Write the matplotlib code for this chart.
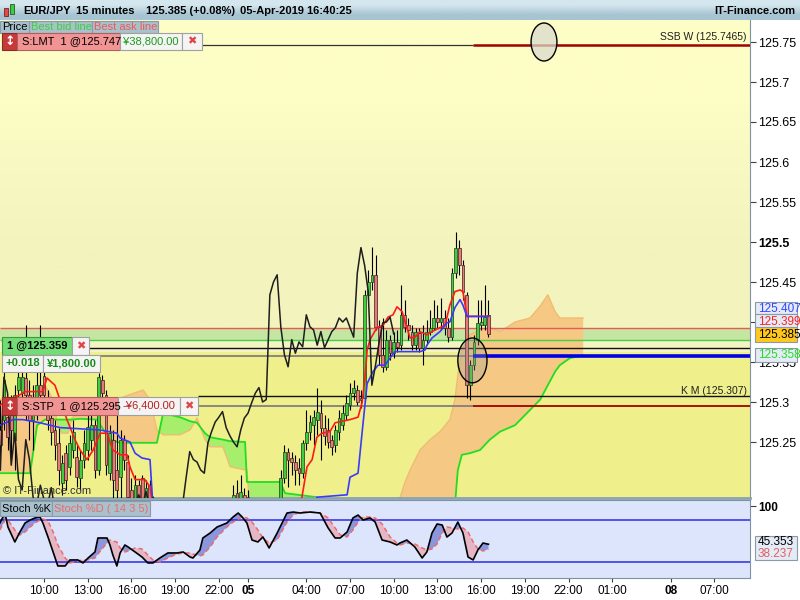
import numpy as np
import matplotlib
matplotlib.use("Agg")
import matplotlib.pyplot as plt
from matplotlib.patches import Rectangle, Ellipse

plt.rcParams['font.family'] = ['Liberation Sans', 'DejaVu Sans']

# ---------------- data (15-minute bars, bar 0 = 04-Apr 10:00) ----------------
first_bar = -12
opens = [
    125.265, 125.278, 125.281, 125.290, 125.253, 125.315, 125.311, 125.330, 125.309, 125.278,
    125.303, 125.321, 125.333, 125.303, 125.280, 125.265, 125.249, 125.199, 125.236, 125.219,
    125.240, 125.231, 125.205, 125.228, 125.240, 125.253, 125.271, 125.215, 125.328, 125.309,
    125.211, 125.253, 125.215, 125.206, 125.253, 125.225, 125.190, 125.178, 125.196, 125.205,
    125.171, 125.196, 125.165, 125.150, 125.140, 125.148, 125.136, 125.128, 125.135, 125.146,
    125.150, 125.138, 125.132, 125.142, 125.152, 125.144, 125.156, 125.160, 125.148, 125.146,
    125.156, 125.165, 125.158, 125.168, 125.171, 125.186, 125.171, 125.184, 125.171, 125.178,
    125.160, 125.152, 125.162, 125.165, 125.170, 125.166, 125.172, 125.178, 125.205, 125.238,
    125.230, 125.225, 125.218, 125.211, 125.249, 125.263, 125.271, 125.278, 125.286, 125.268,
    125.265, 125.253, 125.246, 125.263, 125.271, 125.284, 125.296, 125.311, 125.315, 125.305,
    125.305, 125.434, 125.450, 125.459, 125.394, 125.359, 125.344, 125.378, 125.361, 125.375,
    125.371, 125.409, 125.396, 125.388, 125.371, 125.386, 125.368, 125.378, 125.388, 125.393,
    125.405, 125.400, 125.405, 125.393, 125.381, 125.461, 125.493, 125.471, 125.434, 125.321,
    125.346, 125.378, 125.396, 125.396, 125.409]
highs = [
    125.303, 125.338, 125.296, 125.309, 125.321, 125.378, 125.353, 125.396, 125.328, 125.321,
    125.340, 125.396, 125.346, 125.315, 125.290, 125.278, 125.267, 125.234, 125.246, 125.259,
    125.278, 125.246, 125.240, 125.265, 125.284, 125.290, 125.278, 125.336, 125.334, 125.315,
    125.271, 125.265, 125.290, 125.265, 125.259, 125.234, 125.205, 125.209, 125.203, 125.209,
    125.203, 125.203, 125.178, 125.160, 125.155, 125.158, 125.145, 125.140, 125.150, 125.158,
    125.155, 125.146, 125.148, 125.158, 125.160, 125.162, 125.168, 125.165, 125.158, 125.162,
    125.170, 125.172, 125.172, 125.176, 125.196, 125.203, 125.209, 125.193, 125.190, 125.179,
    125.170, 125.165, 125.172, 125.175, 125.178, 125.176, 125.178, 125.215, 125.246, 125.243,
    125.238, 125.234, 125.230, 125.253, 125.290, 125.284, 125.290, 125.318, 125.303, 125.284,
    125.280, 125.259, 125.271, 125.290, 125.296, 125.309, 125.324, 125.328, 125.321, 125.315,
    125.440, 125.465, 125.494, 125.484, 125.403, 125.405, 125.390, 125.384, 125.388, 125.390,
    125.446, 125.428, 125.405, 125.396, 125.393, 125.393, 125.396, 125.403, 125.415, 125.428,
    125.421, 125.430, 125.415, 125.405, 125.468, 125.513, 125.503, 125.478, 125.438, 125.353,
    125.384, 125.428, 125.428, 125.446, 125.428]
lows = [
    125.215, 125.265, 125.240, 125.228, 125.215, 125.303, 125.290, 125.278, 125.253, 125.240,
    125.278, 125.290, 125.296, 125.265, 125.246, 125.228, 125.196, 125.184, 125.190, 125.209,
    125.230, 125.194, 125.190, 125.218, 125.228, 125.240, 125.205, 125.209, 125.303, 125.209,
    125.203, 125.180, 125.178, 125.180, 125.215, 125.165, 125.159, 125.165, 125.171, 125.153,
    125.159, 125.140, 125.145, 125.135, 125.130, 125.132, 125.120, 125.118, 125.128, 125.138,
    125.130, 125.125, 125.128, 125.136, 125.138, 125.140, 125.148, 125.142, 125.140, 125.142,
    125.150, 125.152, 125.150, 125.158, 125.165, 125.163, 125.165, 125.159, 125.163, 125.155,
    125.148, 125.145, 125.155, 125.158, 125.160, 125.158, 125.162, 125.171, 125.199, 125.194,
    125.209, 125.196, 125.196, 125.205, 125.240, 125.253, 125.246, 125.259, 125.228, 125.246,
    125.243, 125.234, 125.238, 125.253, 125.265, 125.278, 125.290, 125.303, 125.296, 125.293,
    125.300, 125.430, 125.440, 125.390, 125.346, 125.338, 125.340, 125.353, 125.355, 125.363,
    125.365, 125.388, 125.378, 125.365, 125.365, 125.363, 125.346, 125.371, 125.384, 125.390,
    125.393, 125.390, 125.384, 125.375, 125.378, 125.455, 125.459, 125.428, 125.305, 125.303,
    125.340, 125.371, 125.390, 125.390, 125.381]
closes = [
    125.246, 125.328, 125.256, 125.265, 125.309, 125.331, 125.331, 125.309, 125.278, 125.303,
    125.321, 125.309, 125.309, 125.278, 125.263, 125.246, 125.215, 125.224, 125.203, 125.249,
    125.263, 125.206, 125.228, 125.249, 125.269, 125.271, 125.215, 125.331, 125.311, 125.221,
    125.261, 125.203, 125.190, 125.253, 125.228, 125.181, 125.171, 125.196, 125.178, 125.171,
    125.193, 125.165, 125.150, 125.140, 125.148, 125.136, 125.128, 125.135, 125.146, 125.150,
    125.138, 125.132, 125.142, 125.152, 125.144, 125.156, 125.160, 125.148, 125.146, 125.156,
    125.165, 125.158, 125.168, 125.170, 125.184, 125.171, 125.188, 125.168, 125.181, 125.160,
    125.152, 125.162, 125.165, 125.170, 125.166, 125.172, 125.170, 125.205, 125.238, 125.228,
    125.225, 125.215, 125.211, 125.249, 125.263, 125.275, 125.281, 125.288, 125.268, 125.258,
    125.250, 125.244, 125.265, 125.280, 125.286, 125.299, 125.311, 125.318, 125.300, 125.303,
    125.434, 125.450, 125.459, 125.394, 125.359, 125.344, 125.378, 125.361, 125.375, 125.369,
    125.409, 125.394, 125.390, 125.371, 125.388, 125.368, 125.378, 125.388, 125.393, 125.405,
    125.400, 125.405, 125.393, 125.381, 125.461, 125.493, 125.471, 125.438, 125.321, 125.346,
    125.375, 125.399, 125.400, 125.406, 125.385]

# Ichimoku lines (bar position, price)
tenkan_x = [-12.1, -9.3, -6.6, -5.2, -0.3, 0.8, 3.0, 4.9, 6.3, 8.5, 9.9, 11.8, 13.5, 15.4, 17.3,
            18.9, 20.9, 22.8, 23.6, 25.0, 27.7, 29.1, 29.9, 35, 50, 65, 70.5, 70.8, 72.2, 73.6,
            74.9, 76.3, 78.5, 79.9, 84.0, 86.2, 87.3, 88.1, 88.7, 89.5, 91.4, 93.1, 94.4, 95.8, 96.9,
            98.3, 99.6, 100.5, 101.8, 103.2, 105.1, 106.5, 108.7, 110.1, 111.4, 112.8, 114.2, 115.0,
            116.1, 122.0]
tenkan_y = [125.296, 125.303, 125.309, 125.313, 125.313, 125.330, 125.321, 125.296, 125.278, 125.253,
            125.240, 125.228, 125.240, 125.261, 125.261, 125.240, 125.234, 125.234, 125.219, 125.203,
            125.203, 125.194, 125.170, 125.150, 125.140, 125.155, 125.178, 125.181, 125.219, 125.228,
            125.256, 125.261, 125.263, 125.274, 125.278, 125.281, 125.299, 125.330, 125.365, 125.378,
            125.393, 125.396, 125.406, 125.409, 125.419, 125.413, 125.393, 125.380, 125.381, 125.388,
            125.384, 125.388, 125.393, 125.396, 125.421, 125.438, 125.440, 125.438, 125.407, 125.407]
kijun_x = [-12.1, -8.5, -5.8, -1.1, 4.4, 15.4, 20.0, 20.9, 23.6, 25.0, 26.9, 29.1, 29.9, 40, 60,
           74.7, 74.9, 83.2, 84.0, 86.2, 87.3, 88.7, 90.3, 91.7, 93.6, 95.0, 96.3, 103.2, 104.6,
           105.1, 106.5, 108.7, 110.6, 111.4, 112.8, 114.2, 115.0, 116.1, 122.0]
kijun_y = [125.271, 125.278, 125.278, 125.274, 125.268, 125.265, 125.261, 125.255, 125.250, 125.236,
           125.230, 125.228, 125.170, 125.150, 125.150, 125.170, 125.181, 125.184, 125.206, 125.211,
           125.261, 125.323, 125.338, 125.346, 125.346, 125.355, 125.363, 125.363, 125.365, 125.371,
           125.380, 125.388, 125.399, 125.400, 125.418, 125.428, 125.421, 125.407, 125.407]
span_x = [-12.1, -3.8, -1.9, 0.3, 2.5, 3.8, 4.9, 6.6, 7.7, 9.9, 14.5, 18.1, 20.9, 27.2, 29.1,
          31.0, 32.7, 37.3, 40.1, 42.0, 44.2, 45.6, 49.1, 51.1, 55.2, 55.7, 56.5, 64.8, 66.2, 74.9,
          78.5, 97.7, 99.1, 100.5, 103.2, 106.0, 108.7, 111.4, 112.8, 113.6, 114.7, 116.9, 119.7,
          122.4, 125.2, 129.3, 133.4, 136.2, 138.3, 140.3, 141.6, 144.4, 148.0]
span_a = [125.211, 125.211, 125.271, 125.278, 125.278, 125.278, 125.278, 125.278, 125.278, 125.279,
          125.278, 125.253, 125.249, 125.249, 125.249, 125.249, 125.286, 125.281, 125.276, 125.274,
          125.261, 125.256, 125.253, 125.251, 125.250, 125.200, 125.200, 125.200, 125.186, 125.181,
          125.171, 125.153, 125.153, 125.153, 125.153, 125.153, 125.153, 125.159, 125.171, 125.215,
          125.234, 125.236, 125.240, 125.253, 125.263, 125.271, 125.290, 125.303, 125.321, 125.338,
          125.346, 125.355, 125.358]
span_b = [125.303, 125.309, 125.309, 125.321, 125.303, 125.271, 125.261, 125.261, 125.280, 125.290,
          125.296, 125.303, 125.305, 125.315, 125.303, 125.265, 125.259, 125.259, 125.265, 125.280,
          125.253, 125.244, 125.244, 125.219, 125.215, 125.215, 125.165, 125.159, 125.159, 125.159,
          125.159, 125.180, 125.200, 125.215, 125.240, 125.253, 125.263, 125.278, 125.303, 125.334,
          125.365, 125.384, 125.390, 125.393, 125.388, 125.400, 125.405, 125.420, 125.434, 125.413,
          125.405, 125.405, 125.405]

# Stochastic (bar position, %K, %D)
stoch_x = [-12.1, -10.7, -9.9, -8.0, -6.6, -5.2, -3.8, -2.5, -1.1, -0.3, 1.1, 2.5, 3.8, 5.8, 7.1,
           9.3, 10.7, 12.1, 14.0, 14.8, 17.3, 18.1, 18.9, 20.0, 20.9, 22.2, 23.1, 25.0, 26.9, 28.5,
           29.9, 31.8, 34.0, 36.5, 38.2, 40.1, 40.9, 42.8, 43.6, 45.6, 47.5, 50.2, 51.9, 53.3, 54.4,
           55.7, 57.1, 58.7, 60.1, 61.8, 64.0, 66.7, 68.4, 70.3, 73.0, 75.8, 78.0, 79.9, 81.3, 83.2,
           84.8, 86.2, 87.6, 89.5, 90.9, 92.8, 95.0, 96.9, 97.7, 99.6, 101.8, 103.8, 105.1, 106.5,
           107.9, 109.3, 110.6, 112.0, 113.6, 115.0, 116.4, 117.8, 119.1, 120.5, 122.0]
stoch_k = [75.7, 90.0, 70.0, 48.6, 62.9, 75.7, 80.0, 82.9, 84.3, 75.7, 55.7, 34.3, 14.3, 14.3, 22.9,
           22.9, 18.6, 25.7, 34.3, 54.3, 54.3, 44.3, 30.0, 14.3, 32.9, 44.3, 41.4, 34.3, 27.1, 18.6,
           18.6, 25.7, 32.9, 32.9, 34.3, 27.1, 25.7, 37.1, 54.3, 61.4, 70.0, 75.7, 84.3, 90.0, 84.3,
           75.7, 51.4, 48.6, 55.7, 40.0, 61.4, 90.0, 91.4, 90.0, 91.4, 90.0, 68.6, 54.3, 54.3, 62.9,
           82.9, 87.1, 80.0, 82.9, 77.1, 51.4, 48.6, 44.3, 47.1, 51.4, 41.4, 25.7, 34.3, 61.4,
           74.3, 72.9, 55.7, 61.4, 77.1, 61.4, 27.1, 22.9, 37.1, 47.1, 45.353]
stoch_d = [65.7, 80.0, 80.0, 65.7, 58.6, 62.9, 70.0, 75.7, 80.0, 81.4, 78.6, 62.9, 44.3, 25.7, 18.6,
           21.4, 22.9, 22.9, 25.7, 31.4, 47.1, 51.4, 50.0, 48.6, 40.0, 34.3, 35.7, 40.0, 38.6, 30.0,
           22.9, 20.0, 25.7, 31.4, 32.9, 32.9, 31.4, 28.6, 30.0, 41.4, 55.7, 70.0, 77.1, 81.4, 84.3,
           82.9, 77.1, 65.7, 54.3, 47.1, 51.4, 77.1, 87.1, 91.4, 91.4, 90.0, 82.9, 68.6, 58.6, 55.7,
           65.7, 77.1, 84.3, 84.3, 82.9, 74.3, 55.7, 47.1, 44.3, 47.1, 45.7, 40.0, 37.1, 38.6,
           45.7, 61.4, 70.0, 68.6, 67.1, 68.6, 62.9, 48.6, 38.6, 35.7, 38.237]

# Order / reference levels
ssb_price = 125.7465
ask_price = 125.3925
bid_price = 125.3775
pos_line_price = 125.3675
pos_price = 125.358
km_price = 125.307
stp_price = 125.295
split_bar = 117.8

price_ticks = [125.25, 125.3, 125.35, 125.4, 125.45, 125.5, 125.55, 125.6, 125.65, 125.7, 125.75]
price_tick_labels = ['125.25', '125.3', '125.35', '', '125.45', '125.5', '125.55', '125.6',
                     '125.65', '125.7', '125.75']
time_tick_bars = [0, 12, 24, 36, 48, 56, 72, 84, 96, 108, 120, 132, 144, 156, 172, 184]
time_tick_labels = ['10:00', '13:00', '16:00', '19:00', '22:00', '05', '04:00', '07:00', '10:00',
                    '13:00', '16:00', '19:00', '22:00', '01:00', '08', '07:00']

# ---------------- figure ----------------
W, H = 800, 600
fig = plt.figure(figsize=(8, 6), dpi=100, facecolor='white')

X0_PX, BAR_PX = 44.0, 3.643
XMIN = -X0_PX / BAR_PX
XMAX = (750 - X0_PX) / BAR_PX
YMIN, YMAX = 125.18, 125.7775

ax = fig.add_axes([0, 102 / 600, 750 / 800, 478 / 600])

# background
grad = np.array([[[253, 253, 198]], [[243, 243, 190]]]) / 255.0
ax.imshow(grad, extent=(XMIN, XMAX, ask_price, YMAX), aspect='auto',
          interpolation='bilinear', zorder=0)
ax.axhspan(bid_price, ask_price, color='#c4e6a2', lw=0, zorder=0.1)
ax.axhspan(125.362, bid_price, color='#f3f3c4', lw=0, zorder=0.1)
ax.axhspan(YMIN, 125.362, color='#eff08c', lw=0, zorder=0.1)

# cloud
sx = np.array(span_x); sa = np.array(span_a); sb = np.array(span_b)
ax.fill_between(sx, sa, sb, where=sb >= sa, interpolate=True, color='#f5c983', lw=0, zorder=1)
ax.fill_between(sx, sa, sb, where=sa > sb, interpolate=True, color='#a6ee6c', lw=0, zorder=1)
ax.plot(sx, sb, color='#efbc74', lw=1.0, zorder=1.5)
ax.plot(sx, sa, color='#22dd22', lw=1.3, zorder=1.6)

# level lines
ax.hlines(ask_price, XMIN, XMAX, color='#e85a5a', lw=1.0, zorder=2)
ax.hlines(bid_price, XMIN, XMAX, color='#44d044', lw=1.0, zorder=2)
ax.hlines(pos_line_price, 12.3, XMAX, color='#111111', lw=1.0, zorder=2)
ax.hlines(pos_price, 15.4, split_bar, color='#808080', lw=1.3, zorder=2)
ax.hlines(km_price, 42.3, XMAX, color='#111111', lw=1.0, zorder=2)
ax.hlines(stp_price, 42.3, split_bar, color='#808080', lw=1.3, zorder=2)
ax.hlines(ssb_price, 43.4, split_bar, color='#333333', lw=0.9, zorder=2)

# candles
n = min(len(opens), len(highs), len(lows), len(closes))
b = np.arange(first_bar, first_bar + n)
o = np.array(opens[:n]); h = np.array(highs[:n]); l = np.array(lows[:n]); c = np.array(closes[:n])
up = c >= o
ax.vlines(b, l, h, color='black', lw=0.8, zorder=4)
ax.bar(b[up], (c - o)[up], bottom=o[up], width=0.75, color='#3fcc3f',
       edgecolor='#1c3c1c', lw=0.5, zorder=4.2)
ax.bar(b[~up], (o - c)[~up], bottom=c[~up], width=0.75, color='#e67a7a',
       edgecolor='#3c1c1c', lw=0.5, zorder=4.2)

# ichimoku lines
ax.plot(tenkan_x, tenkan_y, color='#ff1a1a', lw=1.2, zorder=5)
ax.plot(kijun_x, kijun_y, color='#3a3aff', lw=1.2, zorder=5)
ax.plot(b - 26, c, color='#1e1e1e', lw=1.1, zorder=5.1)

# right-side coloured parts of order lines
ax.hlines(ssb_price, split_bar, XMAX, color='#a00000', lw=1.8, zorder=5.2)
ax.hlines(pos_price, split_bar, XMAX, color='#0000e6', lw=2.6, zorder=5.2)
ax.hlines(stp_price, split_bar, XMAX, color='#a00000', lw=1.3, zorder=5.2)

# ellipses
ax.add_patch(Ellipse((137.25, 125.75), 7.1, 0.0475, facecolor=(0.85, 0.86, 0.80, 0.75),
                     edgecolor='black', lw=1.0, zorder=6))
ax.add_patch(Ellipse((117.6, 125.352), 8.0, 0.056, facecolor=(0.6, 0.6, 0.6, 0.3),
                     edgecolor='black', lw=1.0, zorder=6))

ax.set_xlim(XMIN, XMAX)
ax.set_ylim(YMIN, YMAX)
ax.set_xticks([])
ax.yaxis.tick_right()
ax.set_yticks(price_ticks)
ax.set_yticklabels(price_tick_labels)
ax.tick_params(axis='y', length=4, width=0.8, color='#404040', labelsize=9, pad=2)
for t in ax.get_yticklabels():
    if t.get_text() == '125.5':
        t.set_fontweight('bold')
for s in ('left', 'top'):
    ax.spines[s].set_visible(False)
ax.spines['right'].set_color('#7d93a1')
ax.spines['bottom'].set_color('#8ca2b0')
ax.spines['bottom'].set_linewidth(2)

# ---------------- stochastic panel ----------------
ax2 = fig.add_axes([0, 22 / 600, 750 / 800, 78 / 600], facecolor='#dce5fb')
kx = np.array(stoch_x); kk = np.array(stoch_k); dd = np.array(stoch_d)
ax2.fill_between(kx, kk, dd, where=kk >= dd, interpolate=True, color='#8c96dc', lw=0, zorder=1)
ax2.fill_between(kx, kk, dd, where=kk < dd, interpolate=True, color='#e4b6c6', lw=0, zorder=1)
ax2.axhline(80, color='#2b2be6', lw=1.1, zorder=2)
ax2.axhline(20, color='#2b2be6', lw=1.1, zorder=2)
ax2.plot(kx, dd, color='#f06a6a', lw=1.1, ls=(0, (3, 2)), zorder=3)
ax2.plot(kx, kk, color='black', lw=1.2, zorder=4)
ax2.set_xlim(XMIN, XMAX)
ax2.set_ylim(-2.9, 108.6)
ax2.yaxis.tick_right()
ax2.set_yticks([100])
ax2.set_yticklabels(['100'])
ax2.tick_params(axis='y', length=4, color='#404040', labelsize=8.5, pad=2)
for t in ax2.get_yticklabels():
    t.set_fontweight('bold')
ax2.set_xticks(time_tick_bars)
ax2.set_xticklabels(time_tick_labels)
ax2.tick_params(axis='x', length=3, color='#404040', labelsize=8.5, pad=2)
for t in ax2.get_xticklabels():
    if t.get_text() in ('05', '08'):
        t.set_fontweight('bold')
ax2.spines['left'].set_visible(False)
for s in ('top', 'right', 'bottom'):
    ax2.spines[s].set_color('#7d93a1')

# ---------------- header ----------------
hax = fig.add_axes([0, 580 / 600, 1, 20 / 600])
hgrad = np.array([[[212, 230, 238]], [[166, 196, 210]]]) / 255.0
hax.imshow(hgrad, extent=(0, 1, 0, 1), aspect='auto', interpolation='bilinear')
hax.set_xlim(0, 1); hax.set_ylim(0, 1)
hax.axis('off')


def fbox(x, y, w, hgt, fc, ec='#8a9aa8', lw=0.8, z=20):
    fig.add_artist(Rectangle((x / W, 1 - (y + hgt) / H), w / W, hgt / H,
                             transform=fig.transFigure, facecolor=fc, edgecolor=ec,
                             linewidth=lw, zorder=z))


def ftext(x, y, s, color='black', size=8, weight='normal', ha='left', z=21, family=None):
    kw = {}
    if family is not None:
        kw['family'] = family
    fig.text(x / W, 1 - y / H, s, color=color, fontsize=size, fontweight=weight,
             ha=ha, va='center', zorder=z, **kw)


# header icon
fbox(4, 8, 4, 8, '#e04a4a', ec='#802020', lw=0.6, z=22)
fbox(10, 4, 4, 10, '#3fcc3f', ec='#206020', lw=0.6, z=22)
ftext(23, 10.5, 'EUR/JPY', size=8, weight='bold')
ftext(76, 10.5, '15 minutes', size=8, weight='bold')
ftext(146, 10.5, '125.385 (+0.08%)', size=8, weight='bold')
ftext(240, 10.5, '05-Apr-2019 16:40:25', size=8, weight='bold')
ftext(795, 10.5, 'IT-Finance.com', size=8, weight='bold', ha='right')

# legend
fbox(0, 21, 29, 12, '#a9c1cd')
ftext(2, 27.5, 'Price', size=8)
fbox(29, 21, 63, 12, '#a9c1cd')
ftext(31, 27.5, 'Best bid line', color='#3ecf3e', size=8)
fbox(92, 21, 66, 12, '#a9c1cd')
ftext(94, 27.5, 'Best ask line', color='#ee5a5a', size=8)

# LMT order
fbox(2, 33, 15, 17, '#c83a3a', ec='#8a2a2a')
ftext(9.5, 41.5, '↕', color='white', size=9, weight='bold', ha='center', family='DejaVu Sans')
fbox(17, 33, 103, 17, '#f29494', ec='#b06060')
ftext(22, 41.5, 'S:LMT  1 @125.747', size=8)
fbox(120, 33, 62, 17, '#f4f4f4', ec='#a0a0a0')
ftext(151, 41.5, '¥38,800.00', color='#1e9a1e', size=8, ha='center')
fbox(182, 33, 20, 17, '#f4f4f4', ec='#a0a0a0')
ftext(192, 41.5, '✖', color='#e04444', size=8, ha='center', family='DejaVu Sans')

# position
fbox(2, 337, 70, 18, '#74dc74', ec='#3a9a3a')
ftext(7, 346, '1 @125.359', size=8, weight='bold')
fbox(72, 337, 17, 18, '#f4f4f4', ec='#a0a0a0')
ftext(80.5, 346, '✖', color='#e04444', size=8, ha='center', family='DejaVu Sans')
fbox(2, 355, 41, 17, '#f4f4f4', ec='#a0a0a0')
ftext(22.5, 363.5, '+0.018', color='#1a8a1a', size=8, weight='bold', ha='center')
fbox(43, 355, 57, 17, '#f4f4f4', ec='#a0a0a0')
ftext(71.5, 363.5, '¥1,800.00', color='#1a8a1a', size=8, weight='bold', ha='center')

# STP order
fbox(2, 397, 15, 18, '#c83a3a', ec='#8a2a2a')
ftext(9.5, 406, '↕', color='white', size=9, weight='bold', ha='center', family='DejaVu Sans')
fbox(17, 397, 101, 18, '#f29494', ec='#b06060')
ftext(22, 406, 'S:STP  1 @125.295', size=8)
fbox(118, 397, 62, 18, '#f4f4f4', ec='#a0a0a0')
ftext(149, 406, '-¥6,400.00', color='#b82020', size=8, ha='center')
fbox(180, 397, 18, 18, '#f4f4f4', ec='#a0a0a0')
ftext(189, 406, '✖', color='#e04444', size=8, ha='center', family='DejaVu Sans')

# annotations
ftext(747, 37.5, 'SSB W (125.7465)', color='#202020', size=7.5, ha='right')
ftext(747, 390.5, 'K M (125.307)', color='#202020', size=7.5, ha='right')
ftext(3, 491, '© IT-Finance.com', color='#333333', size=8)

# right price labels
fbox(755, 302, 42, 12, '#e4ebf6')
ftext(758, 309, '125.407', color='#3344ff', size=8.5)
fbox(755, 314, 42, 14, '#e4ebf6')
ftext(758, 321.5, '125.399', color='#ff2020', size=8.5)
fbox(755, 327, 42, 15, '#ffc81e')
ftext(758, 334.5, '125.385', color='black', size=8.5)
fbox(755, 348, 42, 14, '#e4ebf6')
ftext(758, 355.5, '125.358', color='#22dd22', size=8.5)

# stochastic labels
fbox(0, 501, 52, 15, '#a9c1cd')
ftext(2, 508.5, 'Stoch %K', size=8)
fbox(52, 501, 98, 15, '#a9c1cd')
ftext(54, 508.5, 'Stoch %D ( 14 3 5)', color='#ee6a6a', size=8)
fbox(755, 536, 42, 24, '#e4ebf6')
ftext(758, 542, '45.353', color='black', size=8.5)
ftext(758, 554, '38.237', color='#e06060', size=8.5)

fig.savefig('out.png', dpi=100, facecolor='white')
